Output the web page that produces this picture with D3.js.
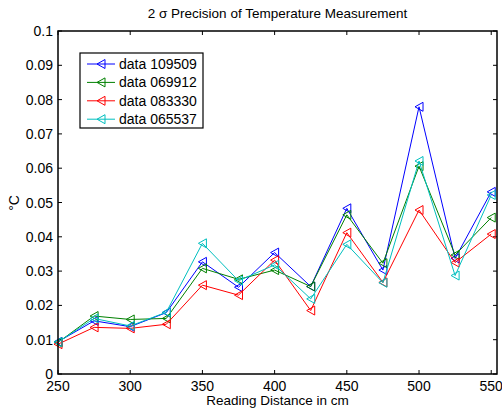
<!DOCTYPE html>
<head>
  <meta charset="utf-8">
  <script src="https://d3js.org/d3.v7.min.js"></script>
  <style>
    body { margin: 0; background: #fff; }
    svg { width: 502px; height: 410px; font-family: 'Liberation Sans', Arial, sans-serif; }
  </style>
</head>
<body>
  <svg></svg>
  <script>
    var distances = [250, 275, 300, 325, 350, 375, 400, 425, 450, 475, 500, 525, 550];
    var seriesNames = ['data 109509', 'data 069912', 'data 083330', 'data 065537'];
    var seriesColors = ['#0000ff', '#008000', '#ff0000', '#00bfbf'];
    var data109509 = [0.0094, 0.0155, 0.0138, 0.0179, 0.0327, 0.0253, 0.0354, 0.0255, 0.0483, 0.0303, 0.0779, 0.0337, 0.0531];
    var data069912 = [0.0092, 0.0169, 0.0159, 0.0162, 0.0308, 0.0276, 0.0303, 0.0255, 0.0464, 0.0323, 0.0606, 0.0347, 0.0456];
    var data083330 = [0.0087, 0.0136, 0.0133, 0.0145, 0.0259, 0.0230, 0.0332, 0.0185, 0.0412, 0.0267, 0.0478, 0.0325, 0.0408];
    var data065537 = [0.0093, 0.0162, 0.0140, 0.0180, 0.0381, 0.0272, 0.0318, 0.0219, 0.0378, 0.0266, 0.0621, 0.0287, 0.0522];
    var xTicks = [250, 300, 350, 400, 450, 500, 550];
    var yTicks = [0, 0.01, 0.02, 0.03, 0.04, 0.05, 0.06, 0.07, 0.08, 0.09, 0.1];

    var series = [data109509, data069912, data083330, data065537];
    // note: "top" is taken by window.top, so plot edges get their own names
    var plotL = 58, plotR = 497, plotT = 31, plotB = 374;

    var svg = d3.select('svg');
    var x = d3.scaleLinear().domain([250, 554]).range([plotL, plotR]);
    var y = d3.scaleLinear().domain([0, 0.1]).range([plotB, plotT]);

    // inner ticks on all four sides
    var tickLen = 4;
    var ticks = svg.append('g').attr('stroke', '#000').attr('stroke-width', 1);
    xTicks.forEach(function(t) {
      ticks.append('line').attr('x1', x(t)).attr('x2', x(t)).attr('y1', plotB).attr('y2', plotB - tickLen);
      ticks.append('line').attr('x1', x(t)).attr('x2', x(t)).attr('y1', plotT).attr('y2', plotT + tickLen);
    });
    yTicks.forEach(function(t) {
      ticks.append('line').attr('x1', plotL).attr('x2', plotL + tickLen).attr('y1', y(t)).attr('y2', y(t));
      ticks.append('line').attr('x1', plotR).attr('x2', plotR - tickLen).attr('y1', y(t)).attr('y2', y(t));
    });

    svg.append('g').selectAll('text').data(xTicks).enter().append('text')
      .attr('x', function(d) { return x(d); })
      .attr('y', plotB + 17)
      .attr('text-anchor', 'middle')
      .attr('font-size', 14)
      .text(function(d) { return d; });

    svg.append('g').selectAll('text').data(yTicks).enter().append('text')
      .attr('x', plotL - 5)
      .attr('y', function(d) { return y(d) + 5; })
      .attr('text-anchor', 'end')
      .attr('font-size', 14)
      .text(function(d) { return d3.format('~g')(d); });

    // lines + markers
    var line = d3.line()
      .x(function(d, i) { return x(distances[i]); })
      .y(function(d) { return y(d); });
    var tri = 'M-4,0L4,-4.5L4,4.5Z';

    series.forEach(function(vals, s) {
      var g = svg.append('g');
      g.append('path').attr('d', line(vals))
        .attr('fill', 'none').attr('stroke', seriesColors[s]).attr('stroke-width', 1);
      g.selectAll('path.m').data(vals).enter().append('path')
        .attr('class', 'm')
        .attr('d', tri)
        .attr('transform', function(d, i) { return 'translate(' + [x(distances[i]), y(d)] + ')'; })
        .attr('fill', 'none').attr('stroke', seriesColors[s]).attr('stroke-width', 1);
    });

    // frame
    svg.append('rect').attr('x', plotL).attr('y', plotT)
      .attr('width', plotR - plotL).attr('height', plotB - plotT)
      .attr('fill', 'none').attr('stroke', '#000').attr('stroke-width', 1.5);

    // legend
    var lg = svg.append('g');
    lg.append('rect').attr('x', 80).attr('y', 53).attr('width', 123).attr('height', 75)
      .attr('fill', '#fff').attr('stroke', '#000').attr('stroke-width', 1.2);
    seriesNames.forEach(function(name, s) {
      var ly = 64 + s * 18.4;
      lg.append('line').attr('x1', 87).attr('x2', 115).attr('y1', ly).attr('y2', ly)
        .attr('stroke', seriesColors[s]);
      lg.append('path').attr('d', tri).attr('transform', 'translate(' + [101, ly] + ')')
        .attr('fill', 'none').attr('stroke', seriesColors[s]);
      lg.append('text').attr('x', 119).attr('y', ly + 5).attr('font-size', 14).text(name);
    });

    // titles
    svg.append('text').attr('x', (plotL + plotR) / 2).attr('y', 18)
      .attr('text-anchor', 'middle').attr('font-size', 13.5)
      .text('2 σ Precision of Temperature Measurement');
    svg.append('text').attr('x', (plotL + plotR) / 2).attr('y', 405)
      .attr('text-anchor', 'middle').attr('font-size', 13.5)
      .text('Reading Distance in cm');
    svg.append('text').attr('transform', 'translate(19,' + 203 + ')rotate(-90)')
      .attr('text-anchor', 'middle').attr('font-size', 14)
      .text('°C');
  </script>
</body>
